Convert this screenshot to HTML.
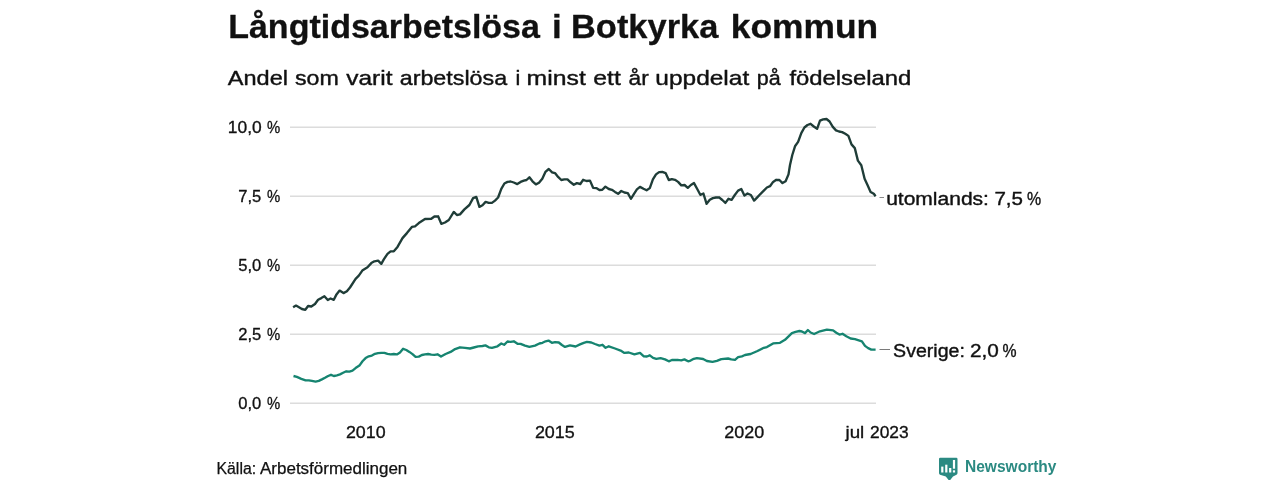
<!DOCTYPE html>
<html lang="sv">
<head>
<meta charset="utf-8">
<title>Långtidsarbetslösa i Botkyrka kommun</title>
<style>
html,body{margin:0;padding:0;background:#fff;}
body{width:1280px;height:480px;overflow:hidden;}
svg{display:block;}
text{font-family:"Liberation Sans",sans-serif;fill:#111;stroke:#111;stroke-width:0.4px;stroke-linejoin:round;}
.tick text{stroke-width:0.33px;}
.ttl{stroke-width:0.3px;}
.src{stroke-width:0.25px;}
.nostroke{stroke:none;}
.grid line{stroke:#dcdcdc;stroke-width:1.4;}
.tick{font-size:17.2px;}
.lbl{font-size:19.2px;}
</style>
</head>
<body>
<svg width="1280" height="480" viewBox="0 0 1280 480">
<rect width="1280" height="480" fill="#fff"/>
<text y="38.1" class="ttl" font-size="33" font-weight="bold"><tspan x="228.19" textLength="311.74" lengthAdjust="spacingAndGlyphs">Långtidsarbetslösa</tspan> <tspan x="551.98" textLength="9.72" lengthAdjust="spacingAndGlyphs">i</tspan> <tspan x="571.01" textLength="147.31" lengthAdjust="spacingAndGlyphs">Botkyrka</tspan> <tspan x="730.86" textLength="147.28" lengthAdjust="spacingAndGlyphs">kommun</tspan></text>
<text y="84.5" font-size="21"><tspan x="227.80" textLength="60.15" lengthAdjust="spacingAndGlyphs">Andel</tspan> <tspan x="295.00" textLength="43.85" lengthAdjust="spacingAndGlyphs">som</tspan> <tspan x="346.25" textLength="46.26" lengthAdjust="spacingAndGlyphs">varit</tspan> <tspan x="399.70" textLength="107.44" lengthAdjust="spacingAndGlyphs">arbetslösa</tspan> <tspan x="515.57" textLength="4.82" lengthAdjust="spacingAndGlyphs">i</tspan> <tspan x="526.62" textLength="59.18" lengthAdjust="spacingAndGlyphs">minst</tspan> <tspan x="593.30" textLength="27.51" lengthAdjust="spacingAndGlyphs">ett</tspan> <tspan x="628.50" textLength="20.24" lengthAdjust="spacingAndGlyphs">år</tspan> <tspan x="655.33" textLength="93.87" lengthAdjust="spacingAndGlyphs">uppdelat</tspan> <tspan x="756.72" textLength="23.95" lengthAdjust="spacingAndGlyphs">på</tspan> <tspan x="789.40" textLength="121.97" lengthAdjust="spacingAndGlyphs">födelseland</tspan></text>
<g class="grid">
<line x1="290" y1="127.3" x2="876" y2="127.3"/>
<line x1="290" y1="196.3" x2="876" y2="196.3"/>
<line x1="290" y1="265.3" x2="876" y2="265.3"/>
<line x1="290" y1="334.3" x2="876" y2="334.3"/>
<line x1="290" y1="403.3" x2="876" y2="403.3"/>
</g>
<g class="tick">
<text y="133.1" ><tspan x="227.79" textLength="33.88" lengthAdjust="spacingAndGlyphs">10,0</tspan> <tspan x="267.10" textLength="13.24" lengthAdjust="spacingAndGlyphs">%</tspan></text>
<text y="202.1" ><tspan x="238.30" textLength="23.04" lengthAdjust="spacingAndGlyphs">7,5</tspan> <tspan x="267.10" textLength="13.24" lengthAdjust="spacingAndGlyphs">%</tspan></text>
<text y="271.1" ><tspan x="238.30" textLength="23.04" lengthAdjust="spacingAndGlyphs">5,0</tspan> <tspan x="267.10" textLength="13.24" lengthAdjust="spacingAndGlyphs">%</tspan></text>
<text y="340.1" ><tspan x="238.30" textLength="23.04" lengthAdjust="spacingAndGlyphs">2,5</tspan> <tspan x="267.10" textLength="13.24" lengthAdjust="spacingAndGlyphs">%</tspan></text>
<text y="409.1" ><tspan x="238.30" textLength="23.04" lengthAdjust="spacingAndGlyphs">0,0</tspan> <tspan x="267.10" textLength="13.24" lengthAdjust="spacingAndGlyphs">%</tspan></text>
<text y="438.4" ><tspan x="345.90" textLength="39.68" lengthAdjust="spacingAndGlyphs">2010</tspan></text>
<text y="438.4" ><tspan x="534.90" textLength="39.88" lengthAdjust="spacingAndGlyphs">2015</tspan></text>
<text y="438.4" ><tspan x="724.20" textLength="39.98" lengthAdjust="spacingAndGlyphs">2020</tspan></text>
<text y="438.4" ><tspan x="845.49" textLength="18.80" lengthAdjust="spacingAndGlyphs">jul</tspan> <tspan x="870.00" textLength="38.67" lengthAdjust="spacingAndGlyphs">2023</tspan></text>
</g>
<polyline fill="none" stroke="#168470" stroke-width="2.35" stroke-linejoin="round" stroke-linecap="butt" points="293.5,376.0 296.9,376.9 301.3,378.8 305.6,380.3 308.8,380.3 311.9,380.9 315.6,381.6 318.8,380.9 321.9,379.4 325.0,377.8 328.1,376.0 331.0,374.8 333.8,376.0 336.9,375.3 340.0,374.4 343.1,372.8 346.3,371.3 349.4,371.6 352.5,370.6 355.6,368.1 359.4,365.6 362.5,361.3 365.6,358.1 368.8,356.3 371.9,355.6 375.0,353.8 378.1,353.1 381.3,352.8 384.4,352.8 387.5,353.8 390.6,354.4 393.8,354.0 396.9,354.4 400.0,352.5 403.1,348.8 406.3,350.0 409.4,351.9 412.5,354.1 415.6,356.9 418.8,356.6 421.9,355.0 425.0,354.4 428.1,354.0 431.3,354.6 434.4,354.8 437.5,354.3 441.0,356.6 445.6,354.0 450.6,351.9 454.4,349.4 460.0,347.3 465.0,347.9 470.0,348.5 473.8,347.5 478.1,346.3 482.5,346.0 485.4,345.4 488.8,347.3 491.9,347.8 497.5,346.3 501.3,343.5 504.1,344.8 507.5,341.5 510.6,341.9 513.8,341.3 517.5,343.8 520.6,343.8 525.0,345.6 529.4,346.9 535.0,345.6 539.4,343.5 542.5,342.8 545.6,341.3 548.5,340.6 551.9,342.8 555.0,342.1 558.8,342.5 561.9,345.0 565.0,346.9 570.0,345.4 575.6,346.5 580.0,344.4 583.8,342.8 586.9,341.9 591.3,342.5 595.0,344.0 599.4,345.6 602.5,344.8 605.6,347.8 608.8,346.3 615.0,348.5 620.6,350.6 624.4,352.9 628.8,352.5 634.4,354.4 640.0,352.9 643.8,356.3 646.9,356.5 649.8,355.3 653.1,357.9 656.3,358.8 660.6,358.1 665.0,359.4 668.8,361.3 671.9,360.0 677.5,359.8 681.3,360.3 684.4,359.4 688.1,361.3 690.6,360.6 693.8,358.8 696.9,358.1 703.1,359.0 706.9,361.0 712.5,361.9 716.9,360.9 721.3,359.1 728.1,358.5 731.3,359.4 735.0,359.8 738.1,357.1 741.9,356.3 745.0,355.0 750.6,354.0 757.5,351.0 763.8,347.8 766.9,347.1 773.1,343.4 780.0,342.8 785.0,339.8 791.9,333.1 795.6,331.9 799.4,331.0 801.9,331.5 805.0,333.1 807.9,330.0 810.6,332.5 814.1,334.0 820.0,331.3 826.9,329.6 833.1,330.4 836.3,332.8 839.4,334.6 842.5,333.8 846.3,336.3 850.6,338.5 855.0,339.1 858.8,340.3 861.9,341.3 865.0,345.9 868.1,348.1 871.3,349.6 875.6,349.6"/>
<polyline fill="none" stroke="#1f3d38" stroke-width="2.35" stroke-linejoin="round" stroke-linecap="butt" points="293.1,307.3 296.0,305.6 299.0,307.3 301.9,309.0 305.3,309.8 308.1,306.0 311.3,306.5 315.0,304.0 318.1,299.8 321.3,298.1 324.4,296.3 327.8,300.0 330.6,298.5 333.8,299.8 336.5,294.4 339.6,290.6 343.5,293.1 346.9,291.3 350.0,287.5 355.6,278.8 358.8,275.6 362.3,270.6 367.5,267.3 371.3,263.1 374.4,261.3 378.1,260.6 381.3,263.8 383.8,259.4 387.5,253.8 390.6,251.3 393.8,251.3 397.5,246.9 402.5,238.1 406.9,233.1 411.9,226.9 415.0,226.3 418.8,223.1 425.0,219.0 431.3,218.8 434.4,216.5 438.1,216.3 441.3,223.8 445.0,222.5 448.8,220.0 453.8,211.9 456.9,215.0 460.0,214.4 464.4,209.4 469.4,205.0 473.1,198.1 476.3,196.9 479.4,206.9 482.5,205.3 485.6,201.9 488.8,202.9 491.9,202.9 495.0,200.6 498.1,197.5 501.3,188.8 504.4,183.5 507.5,181.9 510.6,181.5 513.8,182.5 517.3,184.1 520.6,181.9 523.8,180.6 526.5,180.0 529.4,177.3 532.5,181.3 535.9,184.4 539.0,182.8 542.3,178.8 545.4,171.9 548.8,169.0 552.1,172.3 555.0,173.1 558.1,176.9 561.3,180.0 564.4,179.4 567.5,179.4 570.6,182.3 573.8,184.8 576.9,183.1 580.3,184.0 583.1,179.8 586.5,181.0 590.0,180.6 593.1,187.8 596.3,188.1 599.4,190.0 602.3,189.8 605.4,186.6 608.8,189.0 611.9,189.8 615.0,191.9 618.1,193.8 621.3,191.0 624.4,192.5 627.8,193.1 630.9,198.8 634.0,193.8 636.9,189.4 640.0,186.9 643.5,188.8 646.6,190.3 649.8,188.1 652.9,179.4 656.0,174.4 659.1,172.1 662.3,171.9 665.6,173.1 668.8,180.0 671.9,179.1 675.0,179.8 678.1,181.9 681.3,185.4 684.6,185.0 687.8,187.8 690.9,185.0 694.0,183.1 697.1,188.8 700.3,194.8 703.4,193.5 706.6,203.8 709.8,199.8 712.9,198.1 716.0,197.5 719.1,197.3 722.3,200.0 725.4,202.9 728.5,198.8 731.6,199.8 734.8,195.0 738.1,190.6 741.3,189.0 744.4,195.6 747.5,193.5 750.9,195.0 754.1,200.6 757.5,197.1 760.6,193.8 763.8,190.6 766.9,187.5 770.0,186.2 773.1,181.9 776.3,179.8 779.4,180.0 782.5,183.1 785.6,181.3 788.5,174.4 790.0,165.0 792.3,155.0 795.0,146.3 798.1,141.9 801.3,133.1 804.4,127.5 807.5,125.0 810.6,123.8 813.8,126.5 817.1,128.8 820.0,120.6 823.1,119.4 826.5,119.0 829.6,121.5 832.8,126.9 836.0,130.4 839.0,131.5 842.1,132.1 845.3,133.8 848.4,135.9 851.5,144.4 854.8,148.1 857.9,160.6 861.3,165.3 864.6,178.8 867.5,185.0 870.6,191.9 873.8,193.8 875.6,196.3"/>
<line x1="879.5" y1="197.5" x2="884" y2="197.5" stroke="#8a8a8a" stroke-width="1"/>
<line x1="879.5" y1="349.5" x2="890" y2="349.5" stroke="#7a7a7a" stroke-width="1"/>
<text y="204.8" class="lbl"><tspan x="886.15" textLength="102.80" lengthAdjust="spacingAndGlyphs">utomlands:</tspan> <tspan x="994.40" textLength="28.57" lengthAdjust="spacingAndGlyphs">7,5</tspan> <tspan x="1026.90" textLength="14.15" lengthAdjust="spacingAndGlyphs">%</tspan></text>
<text y="356.8" class="lbl"><tspan x="893.10" textLength="71.76" lengthAdjust="spacingAndGlyphs">Sverige:</tspan> <tspan x="970.00" textLength="28.83" lengthAdjust="spacingAndGlyphs">2,0</tspan> <tspan x="1002.50" textLength="14.05" lengthAdjust="spacingAndGlyphs">%</tspan></text>
<text y="473.6" class="src" font-size="15.6"><tspan x="216.48" textLength="39.67" lengthAdjust="spacingAndGlyphs">Källa:</tspan> <tspan x="260.00" textLength="147.33" lengthAdjust="spacingAndGlyphs">Arbetsförmedlingen</tspan></text>
<g>
<path d="M940.2 457.8 H956.3 Q957.5 457.8 957.5 459 V473 Q957.5 474.2 956.5 474.8 L953 476.6 L949.4 481 L945.8 476.6 L940 474.8 Q939 474.2 939 473 V459 Q939 457.8 940.2 457.8 Z" fill="#2b8a82"/>
<rect x="941.2" y="466.6" width="2.2" height="5.9" fill="#fff"/>
<rect x="945.2" y="464.7" width="2.2" height="7.8" fill="#fff"/>
<rect x="949.1" y="468" width="2.2" height="4.5" fill="#fff"/>
<rect x="952.9" y="460" width="2.2" height="8.7" fill="#fff"/>
<rect x="952.9" y="470.3" width="2.2" height="2.2" fill="#fff"/>
</g>
<text x="965" y="471.5" font-size="16" font-weight="bold" style="fill:#2b8a82;stroke:none" textLength="91.5" lengthAdjust="spacingAndGlyphs">Newsworthy</text>
</svg>
</body>
</html>
